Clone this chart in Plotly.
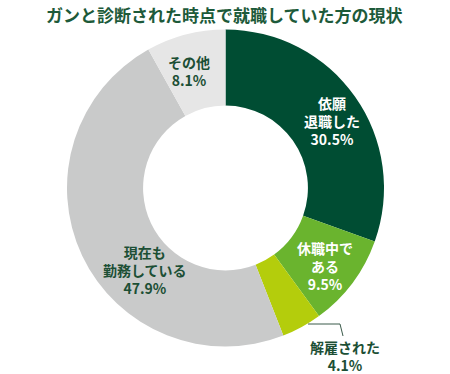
import plotly.graph_objects as go

title = "ガンと診断された時点で就職していた方の現状"
categories = ["依願退職した", "休職中である", "解雇された", "現在も勤務している", "その他"]
values = [30.5, 9.5, 4.1, 47.9, 8.1]
label_texts = ["依願<br>退職した<br>30.5%", "休職中で<br>ある<br>9.5%", "解雇された<br>4.1%",
               "現在も<br>勤務している<br>47.9%", "その他<br>8.1%"]
colors = ["#004d33", "#6ab42e", "#b4cd0c", "#c9caca", "#e6e6e6"]
label_colors = ["#ffffff", "#ffffff", "#1c4f35", "#1c4f35", "#1c4f35"]
# label positions in pixels (x, y from top)
label_pos = [(332, 121), (325, 266), (345, 356), (145, 270), (189, 71)]

W, H = 450, 374
FONT = "Noto Sans CJK JP"

fig = go.Figure(go.Pie(
    labels=categories, values=values, sort=False, direction="clockwise",
    rotation=0, hole=0.52, marker=dict(colors=colors, line=dict(width=0)),
    textinfo="none", hoverinfo="label+percent",
    domain=dict(x=[67 / W, 384 / W], y=[(H - 347) / H, (H - 29) / H]),
))

annotations = [dict(text="<b>" + title + "</b>", x=224 / W, y=1 - 14 / H, xref="paper", yref="paper",
                    showarrow=False, font=dict(family=FONT, size=17, color="#1d5a3a"),
                    xanchor="center", yanchor="middle")]
for t, c, (px, py) in zip(label_texts, label_colors, label_pos):
    annotations.append(dict(text="<b>" + t + "</b>", x=px / W, y=1 - py / H, xref="paper", yref="paper",
                            showarrow=False, font=dict(family=FONT, size=14, color=c),
                            xanchor="center", yanchor="middle", align="center"))

fig.update_layout(
    width=W, height=H, margin=dict(l=0, r=0, t=0, b=0),
    paper_bgcolor="white", plot_bgcolor="white", showlegend=False,
    annotations=annotations,
    shapes=[dict(type="path", xref="paper", yref="paper",
                 path=f"M {308/W} {1-324/H} L {340/W} {1-324/H} L {343/W} {1-336/H}",
                 line=dict(color="#3a5a4a", width=1))],
)
fig.write_html("out.html", config={"displayModeBar": False},
               post_script="document.body.style.margin='0';document.body.style.overflow='hidden';")
